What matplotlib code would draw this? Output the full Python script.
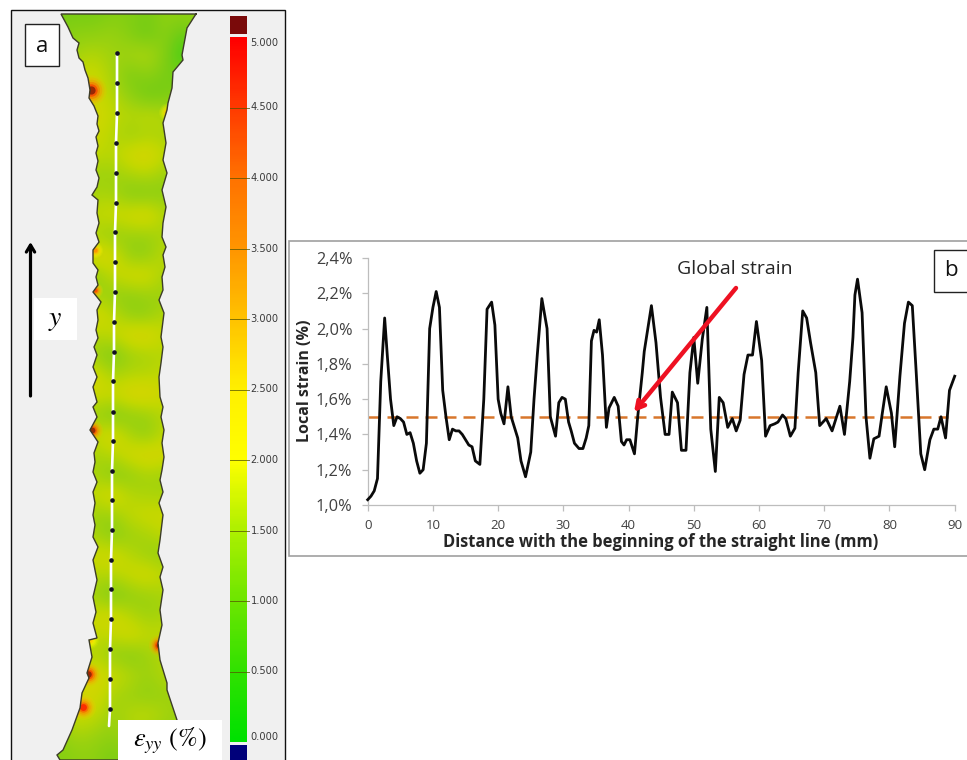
# strain map (a) and local strain profile (b)
import numpy as np
import matplotlib
matplotlib.use("Agg")
import matplotlib.pyplot as plt
from matplotlib.colors import LinearSegmentedColormap
from matplotlib.patches import Polygon, Rectangle

plt.rcParams['font.family'] = ['Open Sans', 'DejaVu Sans']
plt.rcParams['mathtext.fontset'] = 'stix'

# profile, panel b
distance = [0, 0.5, 1, 1.5, 2, 2.6, 3, 3.5, 4, 4.5, 5, 5.5, 6, 6.5, 7, 7.5, 8, 8.5, 9, 9.5,
            10, 10.5, 11, 11.5, 12, 12.5, 13, 13.5, 14, 14.5, 15, 15.5, 16, 16.5, 17.2, 17.8, 18.3, 19, 19.5, 20,
            20.4, 20.9, 21.5, 22, 22.5, 23, 23.5, 24.2, 25, 25.5, 26, 26.7, 27.5, 28, 28.8, 29.3, 29.8, 30.3, 30.8, 31.2,
            31.7, 32.4, 33, 33.5, 33.9, 34.3, 34.7, 35.1, 35.5, 36, 36.6, 37, 37.8, 38.4, 38.9, 39.3, 39.7, 40.2, 40.9, 41.4,
            42.1, 42.4, 43.5, 44.2, 44.9, 45.6, 46.2, 46.7, 47.5, 48.1, 48.8, 49.4, 50, 50.6, 51.3, 52, 52.6, 53.3, 53.9, 54.5,
            55.2, 55.9, 56.5, 57.1, 57.7, 58.3, 59, 59.6, 60.4, 61, 61.7, 62.4, 62.9, 63.6, 64.1, 64.8, 65.5, 66, 66.7, 67.3,
            67.9, 68.7, 69.3, 70.3, 71.2, 72.4, 73.1, 73.9, 74.4, 74.7, 75.1, 75.8, 76.4, 77, 77.6, 78.4, 78.9, 79.5, 80.3, 80.8,
            81.6, 82.3, 82.9, 83.5, 84.1, 84.8, 85.4, 86.2, 86.8, 87.4, 87.9, 88.6, 89.2, 90]
local_strain = [1.03, 1.05, 1.08, 1.15, 1.7, 2.06, 1.85, 1.6, 1.45, 1.5, 1.49, 1.47, 1.40, 1.41, 1.35, 1.25, 1.18, 1.20, 1.35, 2.0,
                2.12, 2.21, 2.12, 1.65, 1.5, 1.37, 1.43, 1.42, 1.42, 1.40, 1.37, 1.34, 1.33, 1.25, 1.23, 1.6, 2.11, 2.15, 2.02, 1.6,
                1.52, 1.46, 1.67, 1.5, 1.44, 1.38, 1.25, 1.16, 1.3, 1.6, 1.85, 2.17, 2.0, 1.5, 1.39, 1.58, 1.61, 1.6, 1.47, 1.42,
                1.35, 1.32, 1.32, 1.38, 1.45, 1.93, 1.99, 1.98, 2.05, 1.85, 1.44, 1.55, 1.61, 1.56, 1.36, 1.34, 1.37, 1.37, 1.29, 1.5,
                1.75, 1.87, 2.13, 1.92, 1.61, 1.40, 1.40, 1.64, 1.58, 1.31, 1.31, 1.75, 1.95, 1.69, 1.94, 2.12, 1.43, 1.19, 1.61, 1.58,
                1.44, 1.49, 1.42, 1.48, 1.74, 1.85, 1.85, 2.04, 1.82, 1.39, 1.45, 1.46, 1.47, 1.51, 1.49, 1.39, 1.435, 1.75, 2.10, 2.06,
                1.92, 1.75, 1.45, 1.49, 1.42, 1.56, 1.40, 1.70, 1.95, 2.19, 2.28, 2.09, 1.5, 1.265, 1.375, 1.39, 1.52, 1.67, 1.52, 1.33,
                1.73, 2.03, 2.15, 2.13, 1.75, 1.29, 1.2, 1.37, 1.43, 1.43, 1.5, 1.38, 1.65, 1.73]
global_strain = 1.5
x_ticks = [0, 10, 20, 30, 40, 50, 60, 70, 80, 90]
y_ticks = [1.0, 1.2, 1.4, 1.6, 1.8, 2.0, 2.2, 2.4]
y_labels = ['1,0%', '1,2%', '1,4%', '1,6%', '1,8%', '2,0%', '2,2%', '2,4%']

# colour scale, panel a
scale_levels = [0.0, 0.5, 1.0, 1.5, 2.0, 2.5, 3.0, 3.5, 4.0, 4.5, 5.0]
scale_colors = ['#00e100', '#32e100', '#6ee600', '#aff000', '#ffff00', '#fff000',
                '#ffc300', '#ff9600', '#ff7300', '#ff3c00', '#ff0000']
scale_labels = ['0.000', '0.500', '1.000', '1.500', '2.000', '2.500', '3.000', '3.500', '4.000', '4.500', '5.000']

# duller tones the map itself shows (blurred screenshot)
map_levels = [0.6, 1.0, 1.3, 1.6, 1.9, 2.2]
map_colors = ['#3cd214', '#78cd14', '#9bd20f', '#c3d800', '#e0d400', '#ecc400']

# specimen outline in image pixels
left_x = [61, 68, 73, 79, 77, 79, 83, 85, 88, 90, 89, 94, 98, 97, 99, 96, 98, 96, 98, 96, 99, 97, 92, 98, 97, 99, 96, 99,
          93, 93, 98, 96, 98, 93, 101, 97, 98, 96, 98, 94, 97, 93, 97, 93, 97, 93, 97, 90, 98, 94, 95, 93, 97, 93, 95, 93,
          95, 93, 98, 93, 97, 93, 96, 93, 97, 89, 92, 87, 89, 82, 80, 72, 63, 57, 60]
left_y = [14, 27, 38, 43, 50, 58, 62, 70, 78, 90, 98, 106, 116, 124, 131, 137, 146, 153, 161, 170, 178, 187, 195, 200, 213,
          223, 233, 242, 250, 263, 270, 277, 285, 292, 302, 310, 320, 330, 338, 347, 355, 367, 377, 387, 402, 407, 417, 430,
          442, 453, 462, 472, 482, 492, 503, 515, 525, 537, 547, 560, 580, 597, 612, 623, 638, 640, 657, 673, 678, 693, 708,
          730, 750, 755, 760]
right_x = [195, 185, 177, 167, 167, 160, 158, 162, 160, 163, 160, 163, 158, 160, 163, 159, 163, 160, 162, 164, 162, 164, 161,
           163, 160, 159, 161, 163, 161, 164, 159, 163, 162, 165, 163, 166, 162, 163, 166, 162, 167, 163, 166, 163, 167, 168,
           172, 173, 183, 182, 187, 196, 197]
right_y = [760, 745, 720, 690, 683, 660, 643, 625, 610, 590, 577, 567, 553, 540, 515, 503, 492, 480, 470, 457, 443, 430, 417,
           407, 397, 377, 363, 347, 337, 313, 300, 290, 277, 267, 255, 247, 237, 223, 207, 190, 173, 160, 143, 123, 110, 103,
           88, 72, 60, 55, 28, 14, 14]

# strain field, one row per 20 px from y=15, columns x=60..200 every 17.5 px
field_rows = [
    [1.0, 1.0, 1.0, 1.1, 1.1, 1.0, 1.2, 1.2, 1.2],
    [1.1, 1.2, 1.2, 1.3, 1.1, 0.9, 1.2, 0.8, 1.2],
    [1.2, 1.4, 1.5, 1.3, 1.4, 1.5, 1.1, 0.6, 1.0],
    [1.3, 1.6, 1.7, 1.4, 1.0, 1.2, 1.0, 1.0, 1.0],
    [1.4, 1.7, 1.7, 1.5, 1.2, 0.9, 1.0, 1.1, 1.1],
    [1.4, 1.7, 1.8, 1.6, 1.5, 1.6, 1.5, 1.4, 1.4],
    [1.4, 1.6, 1.7, 1.5, 1.3, 1.4, 1.4, 1.3, 1.3],
    [1.4, 1.6, 1.6, 1.5, 1.8, 1.9, 1.6, 1.4, 1.4],
    [1.3, 1.4, 1.3, 1.3, 1.4, 1.5, 1.3, 1.3, 1.3],
    [1.3, 1.3, 1.4, 1.4, 1.1, 1.1, 1.2, 1.2, 1.2],
    [1.5, 1.6, 1.6, 1.7, 1.8, 1.9, 1.5, 1.4, 1.4],
    [1.3, 1.3, 1.4, 1.2, 1.3, 1.3, 1.4, 1.3, 1.3],
    [1.8, 1.8, 1.9, 1.8, 1.2, 1.2, 1.6, 1.5, 1.5],
    [1.3, 1.3, 1.2, 1.6, 1.8, 1.8, 1.4, 1.3, 1.3],
    [1.3, 1.3, 1.4, 1.2, 1.2, 1.3, 1.3, 1.3, 1.3],
    [1.7, 1.8, 1.8, 1.6, 1.2, 1.2, 1.5, 1.4, 1.4],
    [1.5, 1.6, 1.5, 1.6, 1.9, 1.9, 1.6, 1.5, 1.5],
    [1.3, 1.3, 1.3, 1.0, 1.3, 1.4, 1.5, 1.4, 1.4],
    [1.7, 1.8, 1.8, 1.4, 1.5, 1.5, 1.6, 1.5, 1.5],
    [1.6, 1.7, 1.7, 1.7, 1.9, 1.9, 1.7, 1.6, 1.6],
    [1.3, 1.3, 1.3, 1.0, 1.2, 1.3, 1.5, 1.5, 1.5],
    [1.6, 1.7, 1.6, 1.9, 1.4, 1.2, 1.6, 1.6, 1.6],
    [1.4, 1.4, 1.4, 1.5, 1.8, 1.9, 1.8, 1.6, 1.6],
    [1.4, 1.4, 1.4, 1.1, 1.2, 1.4, 1.3, 1.3, 1.3],
    [1.6, 1.7, 1.6, 1.9, 1.5, 1.4, 1.4, 1.4, 1.4],
    [1.4, 1.4, 1.3, 1.3, 1.6, 1.7, 1.7, 1.6, 1.6],
    [1.4, 1.4, 1.4, 1.1, 1.3, 1.4, 1.6, 1.6, 1.6],
    [1.6, 1.7, 1.7, 1.8, 1.5, 1.3, 1.2, 1.3, 1.3],
    [1.4, 1.5, 1.5, 1.5, 1.7, 1.8, 1.6, 1.5, 1.5],
    [1.4, 1.3, 1.3, 1.0, 1.2, 1.3, 1.4, 1.4, 1.4],
    [1.6, 1.7, 1.7, 1.8, 1.5, 1.3, 1.4, 1.4, 1.4],
    [1.5, 1.6, 1.6, 1.6, 1.8, 1.6, 1.6, 1.6, 1.6],
    [1.3, 1.4, 1.5, 1.2, 1.1, 1.3, 1.5, 1.5, 1.5],
    [1.5, 1.7, 1.8, 1.7, 1.5, 1.3, 1.5, 1.5, 1.5],
    [1.5, 1.7, 1.8, 1.4, 1.3, 1.2, 1.3, 1.3, 1.3],
    [1.4, 1.7, 1.6, 1.3, 1.5, 1.6, 1.4, 1.3, 1.3],
    [1.2, 1.4, 1.3, 1.2, 1.4, 1.3, 1.2, 1.2, 1.2],
    [1.1, 1.2, 1.2, 1.0, 1.2, 1.2, 1.1, 1.1, 1.1],
]

# local hot spots on the edges
hot_x = [91, 92, 90, 88, 83, 159, 168, 95, 95]
hot_y = [90, 430, 640, 674, 707, 645, 112, 290, 250]
hot_value = [5.4, 5.2, 3.0, 5.4, 5.0, 5.4, 3.6, 4.6, 3.8]
hot_size = [1.6, 0.8, 0.5, 1.0, 1.1, 0.8, 0.6, 0.4, 0.4]

# extraction line and its marks
path_x = [117, 117, 117, 116, 116, 116, 115, 115, 115, 114, 114, 113, 113, 113, 112, 112, 112, 111, 111, 111, 110, 110, 110, 109]
path_y = [53, 83, 113, 143, 173, 203, 232, 262, 292, 322, 352, 381, 412, 441, 471, 500, 530, 560, 589, 619, 649, 679, 709, 726]

W, H = 967, 760
fig = plt.figure(figsize=(W / 100, H / 100), dpi=100, facecolor='white')

# whole figure in image pixels for panel a and the boxes
ax = fig.add_axes([0, 0, 1, 1])
ax.axis('off')

ax.add_patch(Rectangle((11, 10), 274, 760, fc='#f0f0f0', ec='#111111', lw=1.0, zorder=1))

cmap = LinearSegmentedColormap.from_list('strain', [(v / 5.0, c) for v, c in zip(scale_levels, scale_colors)])
cmap.set_over('#5a0a0a')
map_cmap = LinearSegmentedColormap.from_list(
    'map', [((v - map_levels[0]) / (map_levels[-1] - map_levels[0]), c) for v, c in zip(map_levels, map_colors)])

outline = list(zip(left_x, left_y)) + list(zip(right_x, right_y))
img = ax.imshow(np.array(field_rows), extent=(51.25, 208.75, 765, 5), cmap=map_cmap, vmin=map_levels[0], vmax=map_levels[-1],
                interpolation='bicubic', aspect='auto', zorder=3)
clip = Polygon(outline, closed=True, transform=ax.transData)
img.set_clip_path(clip)

# hot spots, stacked discs going from the soft orange rim to the dark core
for hx, hy, hv, hs in zip(hot_x, hot_y, hot_value, hot_size):
    for size, frac, alpha in [(300, 0.6, 0.14), (220, 0.65, 0.2), (150, 0.72, 0.28), (95, 0.8, 0.35), (50, 0.9, 0.45), (22, 1.0, 0.6)]:
        spot = ax.scatter([hx], [hy], s=size * hs, c=[hv * frac], cmap=cmap, vmin=0, vmax=5,
                          alpha=alpha, linewidths=0, zorder=4)
        spot.set_clip_path(clip)

ax.add_patch(Polygon(outline, closed=True, fc='none', ec='#3c3c28', lw=1.0, zorder=5))

ax.plot(path_x, path_y, color='white', lw=1.9, solid_capstyle='round', zorder=6)
ax.scatter(path_x[:-1], path_y[:-1], s=11, color='#101020', linewidths=0, zorder=7)

# colour bar
ax.imshow(np.linspace(5, 0, 300).reshape(-1, 1), extent=(230, 247, 742, 37), cmap=cmap,
          vmin=0, vmax=5, aspect='auto', zorder=3)
ax.add_patch(Rectangle((230, 16), 17, 18, fc='#7a0a0a', ec='none', zorder=3))
ax.add_patch(Rectangle((230, 745), 17, 15, fc='#00007a', ec='none', zorder=3))
for v, lab in zip(scale_levels, scale_labels):
    py = 742 - v * 141
    if 0 < v < 5:
        ax.plot([230, 249], [py, py], color='#555500', lw=0.7, alpha=0.75, zorder=4)
    ty = py + (-5 if v == 0 else 6 if v == 5 else 0)
    ax.text(250.5, ty, lab, fontsize=7.1, family='DejaVu Sans', color='#3a3a3a', ha='left', va='center', zorder=4)

ax.set_xlim(0, W)
ax.set_ylim(H, 0)

# arrow and symbol labels
ax.annotate('', xy=(30.5, 242), xytext=(30.5, 396),
            arrowprops=dict(arrowstyle='->,head_length=0.5,head_width=0.3', color='black', lw=2.3,
                            shrinkA=0, shrinkB=0), zorder=6)
ax.add_patch(Rectangle((34, 298), 43, 42, fc='white', ec='none', zorder=6))
ax.text(55, 319, r'$y$', fontsize=20, ha='center', va='center', zorder=7)
ax.add_patch(Rectangle((118, 720), 104, 42, fc='white', ec='none', zorder=6))
ax.text(170, 741, r'$\varepsilon_{yy}$ (%)', fontsize=19, family='STIXGeneral', ha='center', va='center', zorder=7)

ax.add_patch(Rectangle((25, 24), 34, 42, fc='white', ec='#222222', lw=1.0, zorder=6))
ax.text(42, 46, 'a', fontsize=16, ha='center', va='center', color='#111111', zorder=7)

# panel b frame
ax.add_patch(Rectangle((289, 241), 690, 315, fc='white', ec='#a0a0a0', lw=1.2, zorder=1))

# panel b chart
x0, x1, y0, y1 = 367.7, 954.7, 505, 258
ch = fig.add_axes([x0 / W, (H - y0) / H, (x1 - x0) / W, (y0 - y1) / H], facecolor='none', zorder=3)
ch.plot(distance, local_strain, color='#0a0a0a', lw=2.0, solid_joinstyle='round', clip_on=False, zorder=3)
ch.plot([0, 89], [global_strain, global_strain], color='#d8762c', lw=1.8, dashes=(4.8, 2.8), zorder=2)
ch.set_xlim(0, 90)
ch.set_ylim(1.0, 2.4)
ch.set_xticks(x_ticks)
ch.set_yticks(y_ticks)
ch.set_yticklabels(y_labels)
ch.tick_params(axis='both', color='#bdbdbd', length=4, width=0.9, labelcolor='#404040')
ch.tick_params(axis='y', labelsize=11.8, pad=7)
ch.tick_params(axis='x', labelsize=9.5, pad=6)
for side in ['top', 'right']:
    ch.spines[side].set_visible(False)
for side in ['left', 'bottom']:
    ch.spines[side].set_color('#bdbdbd')
    ch.spines[side].set_linewidth(0.9)

ax2 = fig.add_axes([0, 0, 1, 1], facecolor='none', zorder=4)
ax2.set_xlim(0, W)
ax2.set_ylim(H, 0)
ax2.axis('off')
ax2.text(661, 542, 'Distance with the beginning of the straight line (mm)', fontsize=11.9, fontweight='bold',
         color='#262626', ha='center', va='center')
ax2.text(305, 381, 'Local strain (%)', fontsize=11.5, fontweight='bold', rotation=90,
         color='#262626', ha='center', va='center')
ax2.text(735, 269, 'Global strain', fontsize=14, color='#262626', ha='center', va='center')
ax2.annotate('', xy=(634, 412), xytext=(736, 288),
             arrowprops=dict(arrowstyle='->,head_length=0.55,head_width=0.3', color='#ee1122', lw=3.2,
                             shrinkA=0, shrinkB=0))
ax2.add_patch(Rectangle((934, 250), 40, 42, fc='white', ec='#222222', lw=1.0))
ax2.text(951, 271, 'b', fontsize=16, ha='center', va='center', color='#111111')

plt.savefig('out.png', dpi=100)
